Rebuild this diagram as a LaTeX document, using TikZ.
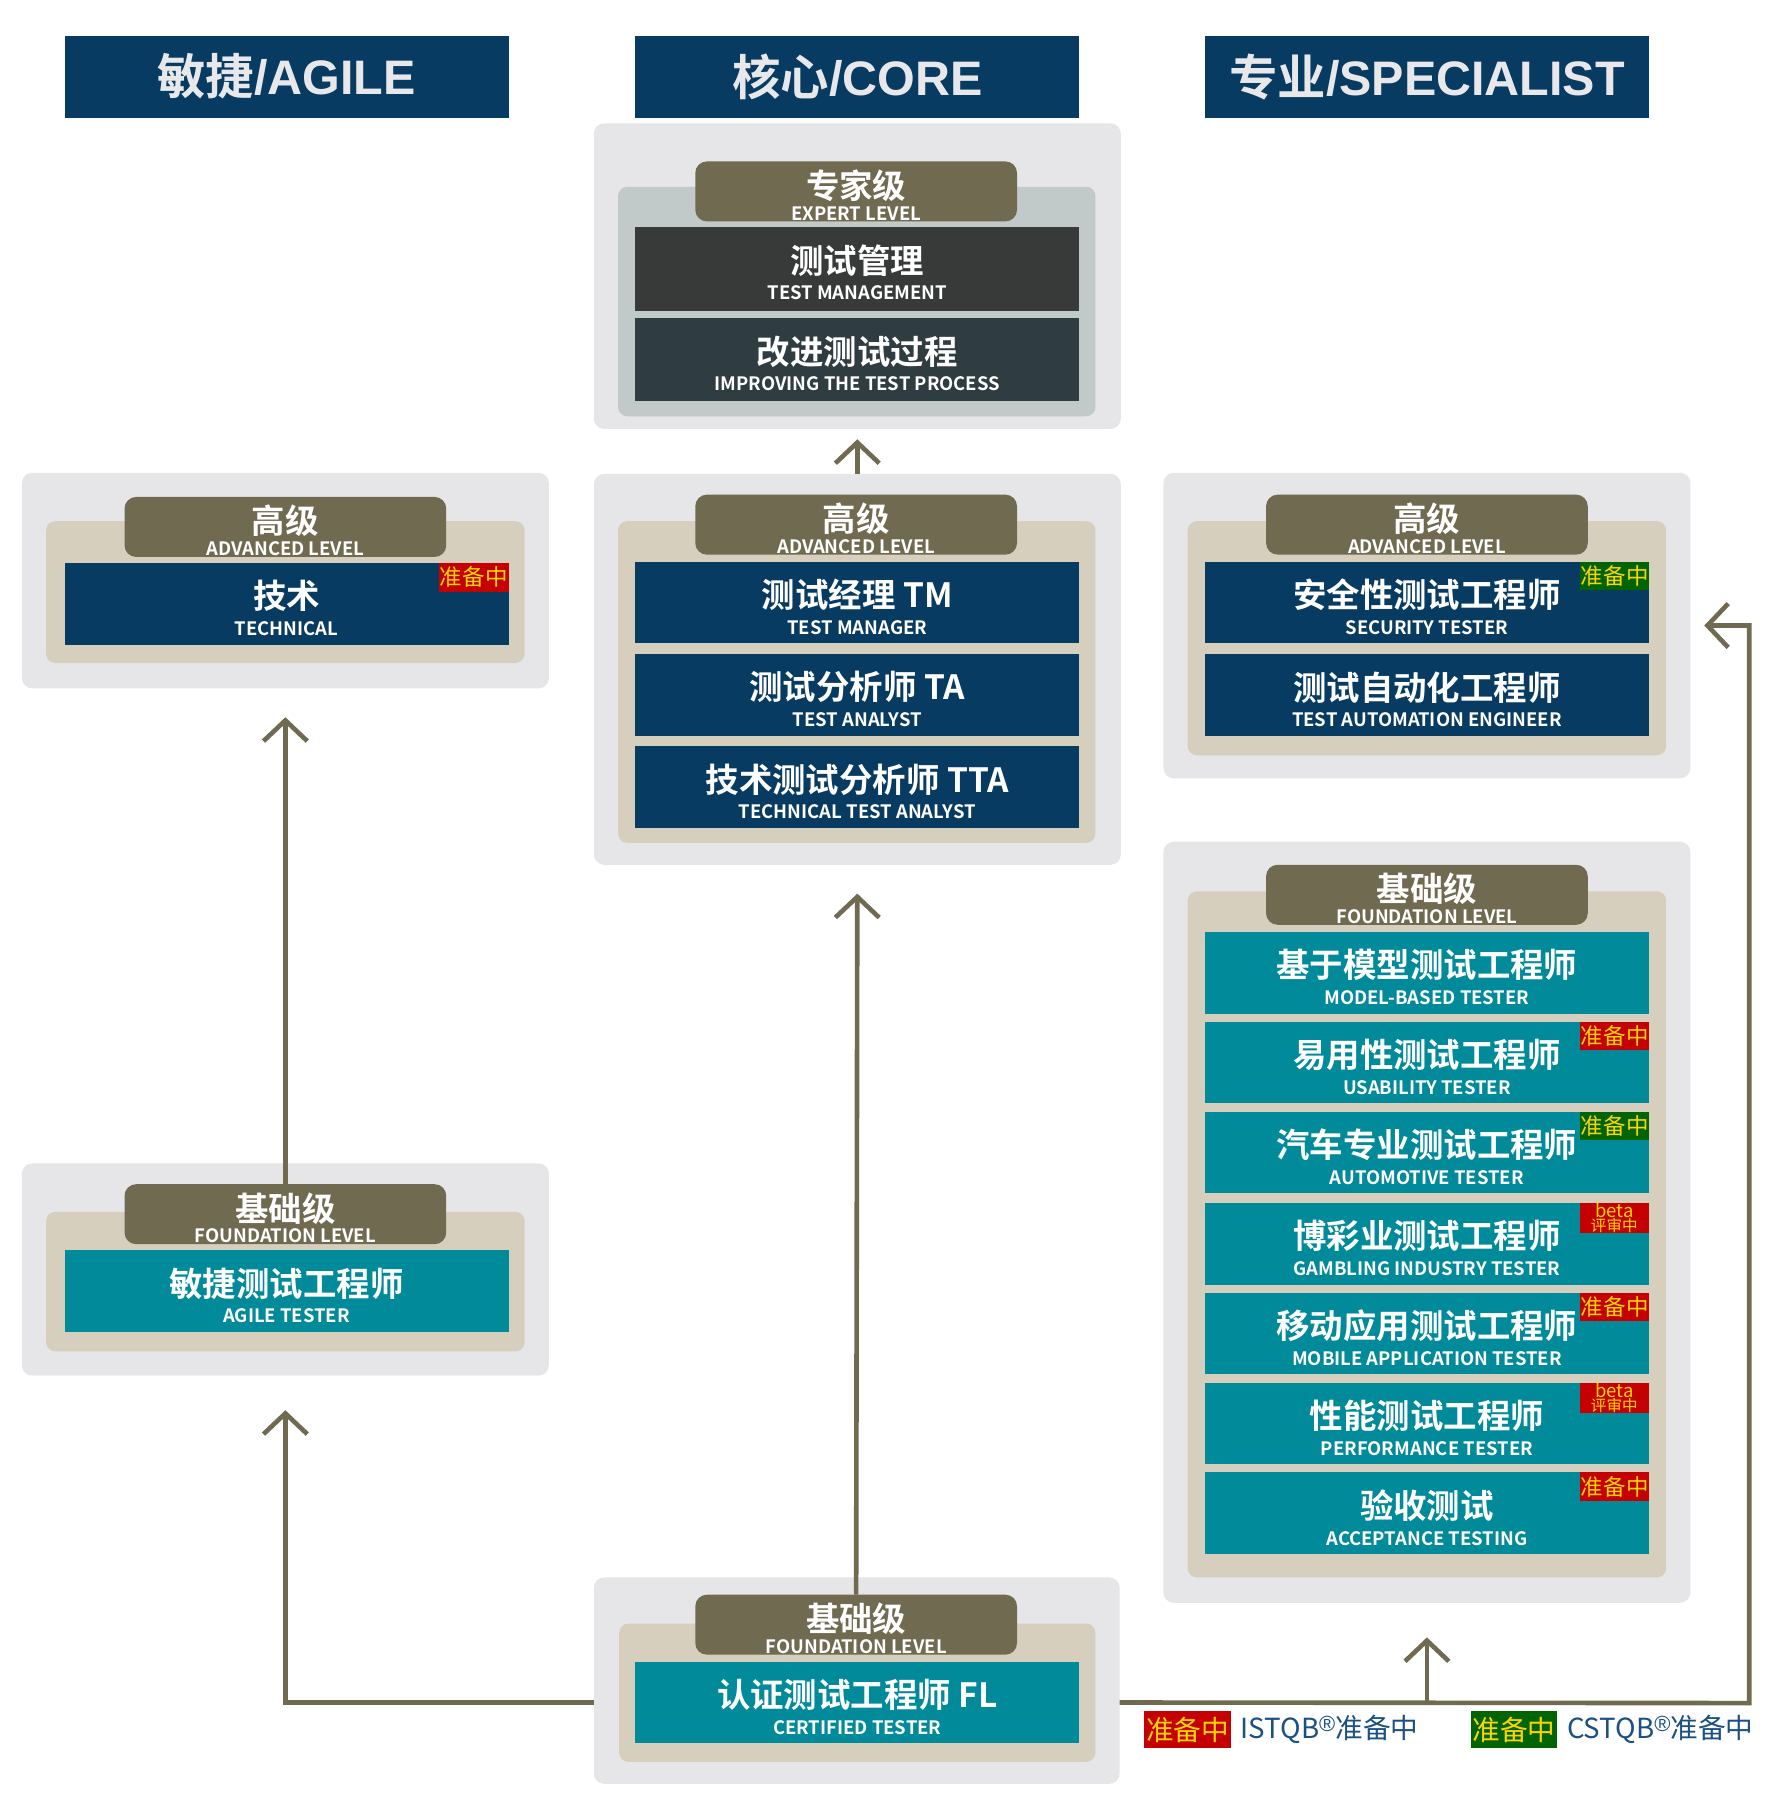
\documentclass[tikz,border=0pt]{standalone}
\usepackage{fontspec}
\usetikzlibrary{arrows.meta}
\newfontfamily\zh{Noto Sans CJK SC}[BoldFont={Noto Sans CJK SC Bold}]
\newfontfamily\hdr{Liberation Sans}

\definecolor{clrNavy}{HTML}{073B62}
\definecolor{clrTeal}{HTML}{008A9A}
\definecolor{clrPanel}{HTML}{E6E6E8}
\definecolor{clrBeige}{HTML}{D6CFBD}
\definecolor{clrExpert}{HTML}{C1C9C9}
\definecolor{clrOlive}{HTML}{6F6A50}
\definecolor{clrDark}{HTML}{383A3A}
\definecolor{clrSlate}{HTML}{2F3C41}
\definecolor{clrHead}{HTML}{E8E8EA}
\definecolor{clrRed}{HTML}{C40000}
\definecolor{clrGreen}{HTML}{006400}
\definecolor{clrYellow}{HTML}{FFD400}
\definecolor{clrLegend}{HTML}{1A5083}

\tikzset{
  every node/.style={inner sep=0pt, outer sep=0pt},
  outer/.style={fill=clrPanel, rounded corners=9pt},
  inner/.style={fill=clrBeige, rounded corners=8pt},
  expinner/.style={fill=clrExpert, rounded corners=8pt},
  tabbox/.style={fill=clrOlive, rounded corners=10pt, minimum width=279pt,
    minimum height=52pt, anchor=north west},
  entrybox/.style={minimum width=385pt, minimum height=71pt, anchor=north west},
  navybox/.style={entrybox, fill=clrNavy},
  tealbox/.style={entrybox, fill=clrTeal},
  darkbox/.style={entrybox, fill=clrDark, minimum height=73pt},
  slatebox/.style={entrybox, fill=clrSlate, minimum height=72pt},
  maintxt/.style={text=white, font=\zh\bfseries\fontsize{29}{30}\selectfont},
  subtxt/.style={text=white, font=\zh\bfseries\fontsize{16}{17}\selectfont},
  tabmain/.style={text=white, font=\zh\bfseries\fontsize{29}{30}\selectfont},
  tabsub/.style={text=white, font=\zh\bfseries\fontsize{16}{17}\selectfont},
  header/.style={fill=clrNavy, minimum width=385pt, minimum height=71pt,
    anchor=north west, text=clrHead, font=\hdr\bfseries\fontsize{42}{44}\selectfont},
  badge/.style={minimum width=60pt, minimum height=25pt, anchor=north east,
    text=clrYellow, font=\zh\fontsize{19.5}{20}\selectfont},
  betabadge/.style={badge, align=center, font=\zh\fontsize{13.5}{11.5}\selectfont},
  legbadge/.style={minimum height=32pt, anchor=north west, text=clrYellow,
    font=\zh\fontsize{24}{24}\selectfont},
  legtext/.style={anchor=west, text=clrLegend, font=\zh\fontsize{24}{24}\selectfont},
  conn/.style={draw=clrOlive, line width=4pt,
    -{Straight Barb[length=18pt,width=38pt]}},
}

% rectangle node given by its top-left and bottom-right corners
\newcommand\panel[6]{%
  \pgfmathsetmacro\pw{#5-#3}\pgfmathsetmacro\ph{#6-#4}%
  \node[#2, minimum width=\pw pt, minimum height=\ph pt, anchor=north west] (#1) at (#3,#4) {};}
% level tab with Chinese title and English subtitle
\newcommand\tabat[5]{%
  \node[tabbox] (#1) at (#2,#3) {};
  \node[tabmain] (#1-zh) at ([yshift=-21pt]#1.north) {#4};
  \node[tabsub] (#1-en) at ([yshift=-45pt]#1.north) {#5};}
% certificate box with Chinese title and English subtitle
\newcommand\entry[6]{%
  \node[#2] (#1) at (#3,#4) {};
  \node[maintxt] (#1-zh) at ([yshift=-29pt]#1.north) {#5};
  \node[subtxt] (#1-en) at ([yshift=-57pt]#1.north) {#6};}
% status label texts and registered mark
\newcommand\prep{准\hspace{0.5pt}备\hspace{0.5pt}中}
\newcommand\betareview{{\fontsize{16}{12}\selectfont beta}\\评审中}
\newcommand\regmark{\raisebox{6pt}{\hdr\fontsize{19}{19}\selectfont ®}}

\begin{document}
\begin{tikzpicture}[x=1pt,y=-1pt]
\useasboundingbox (0,0) rectangle (1534,1568);
\fill[white] (0,0) rectangle (1534,1568);

% column headers
\node[header] (hd-agile) at (56,31) {{\zh\bfseries 敏捷}/AGILE};
\node[header] (hd-core) at (551,31) {{\zh\bfseries 核心}/CORE};
\node[header] (hd-spec) at (1045,31) {{\zh\bfseries 专业}/SPECIALIST};

% core: expert level
\panel{core-exp}{outer}{515}{107}{972}{372}
\panel{core-exp-in}{expinner}{536}{162}{950}{361}
\tabat{core-exp-tab}{603}{140}{专家级}{EXPERT LEVEL}
\entry{tmgmt}{darkbox}{551}{197}{测试管理}{TEST MANAGEMENT}
\entry{itp}{slatebox}{551}{276}{改进测试过程}{IMPROVING THE TEST PROCESS}

% core: advanced level
\panel{core-adv}{outer}{515}{411}{972}{750}
\panel{core-adv-in}{inner}{536}{452}{950}{731}
\tabat{core-adv-tab}{603}{429}{高级}{ADVANCED LEVEL}
\entry{tm}{navybox}{551}{487}{测试经理 TM}{TEST MANAGER}
\entry{ta}{navybox}{551}{567}{测试分析师 TA}{TEST ANALYST}
\entry{tta}{navybox}{551}{647}{技术测试分析师 TTA}{TECHNICAL TEST ANALYST}

% core: foundation level
\panel{core-fl}{outer}{515}{1368}{971}{1547}
\panel{core-fl-in}{inner}{537}{1408}{950}{1528}
\tabat{core-fl-tab}{603}{1383}{基础级}{FOUNDATION LEVEL}
\entry{fl}{tealbox}{551}{1441}{认证测试工程师 FL}{CERTIFIED TESTER}

% agile: advanced level
\panel{agile-adv}{outer}{19}{410}{476}{597}
\panel{agile-adv-in}{inner}{40}{452}{455}{575}
\tabat{agile-adv-tab}{108}{431}{高级}{ADVANCED LEVEL}
\entry{tech}{navybox}{56}{488}{技术}{TECHNICAL}
\node[badge, fill=clrRed] (tech-badge) at (tech.north east) {\prep};

% agile: foundation level
\panel{agile-fl}{outer}{19}{1009}{476}{1193}
\panel{agile-fl-in}{inner}{40}{1051}{455}{1172}
\tabat{agile-fl-tab}{108}{1027}{基础级}{FOUNDATION LEVEL}
\entry{agile}{tealbox}{56}{1084}{敏捷测试工程师}{AGILE TESTER}

% specialist: advanced level
\panel{spec-adv}{outer}{1009}{410}{1466}{675}
\panel{spec-adv-in}{inner}{1030}{452}{1445}{655}
\tabat{spec-adv-tab}{1098}{429}{高级}{ADVANCED LEVEL}
\entry{sec}{navybox}{1045}{487}{安全性测试工程师}{SECURITY TESTER}
\node[badge, fill=clrGreen] (sec-badge) at (sec.north east) {\prep};
\entry{tae}{navybox}{1045}{567}{测试自动化工程师}{TEST AUTOMATION ENGINEER}

% specialist: foundation level
\panel{spec-fl}{outer}{1009}{730}{1466}{1390}
\panel{spec-fl-in}{inner}{1030}{773}{1445}{1368}
\tabat{spec-fl-tab}{1098}{750}{基础级}{FOUNDATION LEVEL}
\entry{mbt}{tealbox}{1045}{808}{基于模型测试工程师}{MODEL-BASED TESTER}
\entry{ut}{tealbox}{1045}{886}{易用性测试工程师}{USABILITY TESTER}
\node[badge, fill=clrRed] (ut-badge) at (ut.north east) {\prep};
\entry{at}{tealbox}{1045}{964}{汽车专业测试工程师}{AUTOMOTIVE TESTER}
\node[badge, fill=clrGreen] (at-badge) at (at.north east) {\prep};
\entry{git}{tealbox}{1045}{1043}{博彩业测试工程师}{GAMBLING INDUSTRY TESTER}
\node[betabadge, fill=clrRed] (git-badge) at (git.north east) {\betareview};
\entry{mat}{tealbox}{1045}{1121}{移动应用测试工程师}{MOBILE APPLICATION TESTER}
\node[badge, fill=clrRed] (mat-badge) at (mat.north east) {\prep};
\entry{pt}{tealbox}{1045}{1199}{性能测试工程师}{PERFORMANCE TESTER}
\node[betabadge, fill=clrRed] (pt-badge) at (pt.north east) {\betareview};
\entry{acc}{tealbox}{1045}{1277}{验收测试}{ACCEPTANCE TESTING}
\node[badge, fill=clrRed] (acc-badge) at (acc.north east) {\prep};

% legend
\node[legbadge, fill=clrRed, minimum width=76pt] (leg-red) at (992,1484) {准备中};
\node[legtext] (leg-istqb) at ([xshift=8pt]leg-red.east) {ISTQB\regmark 准备中};
\node[legbadge, fill=clrGreen, minimum width=74pt] (leg-green) at (1276,1484) {准备中};
\node[legtext] (leg-cstqb) at ([xshift=9pt]leg-green.east) {CSTQB\regmark 准备中};

% progression connectors
\coordinate (r-turn) at (1517,1477);
\draw[conn] (core-fl-tab.north) -- ([yshift=-25pt]core-adv.south);
\draw[conn] (core-adv.north) -- ([yshift=-9pt]core-exp.south);
\draw[conn] (agile-fl-tab.north) -- ([yshift=-25pt]agile-adv.south);
\draw[conn] (fl.west -| core-fl.west) -| ([yshift=-30pt]agile-fl.south);
\draw[conn] (fl.east -| core-fl.east) -- (r-turn) |- ([xshift=12pt]spec-adv.east);
\draw[conn] (spec-fl.south |- fl.east) -- ([yshift=-30pt]spec-fl.south);
\end{tikzpicture}
\end{document}
